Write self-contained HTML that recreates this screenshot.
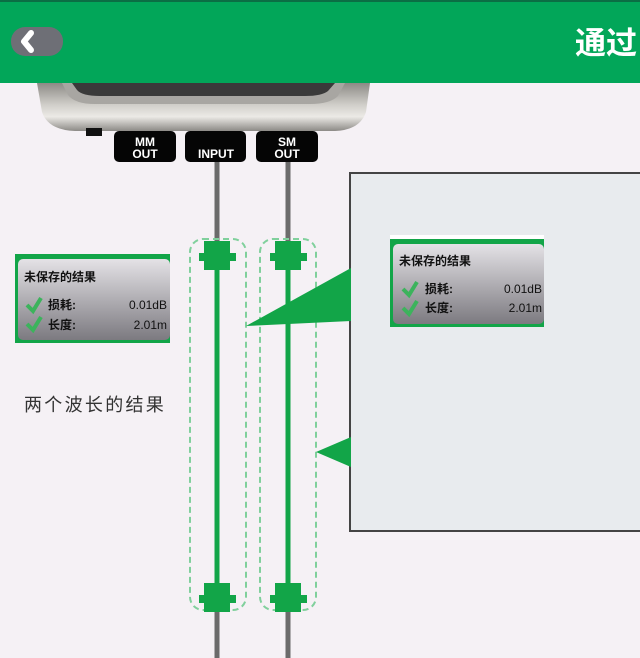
<!DOCTYPE html>
<html><head><meta charset="utf-8"><style>
html,body{margin:0;padding:0;width:640px;height:658px;overflow:hidden;background:#f5f1f5;font-family:"Liberation Sans","Noto Sans CJK SC",sans-serif;}
</style></head><body>
<svg width="640" height="658" viewBox="0 0 640 658" xmlns="http://www.w3.org/2000/svg" style="position:absolute;left:0;top:0">
<defs>
<linearGradient id="silver" x1="0" y1="0" x2="0" y2="1">
<stop offset="0" stop-color="#8c8a86"/><stop offset="0.45" stop-color="#d0cec9"/><stop offset="0.7" stop-color="#eceae6"/><stop offset="1" stop-color="#8c8a86"/>
</linearGradient>
<linearGradient id="panel" x1="0" y1="0" x2="0" y2="1">
<stop offset="0" stop-color="#e4e2e6"/><stop offset="1" stop-color="#7c7a80"/>
</linearGradient>
</defs>
<rect x="0" y="0" width="640" height="658" fill="#f5f1f5"/>
<!-- device -->
<path d="M37 83 L370 83 L366 112 Q360 130 335 131 L75 131 Q48 130 42 112 Z" fill="url(#silver)"/>
<path d="M62 83 L345 83 L338 96 Q330 104 310 104 L95 104 Q75 104 68 95 Z" fill="#a8a6a2"/>
<path d="M72 83 L335 83 L328 91 Q322 96 305 96 L100 96 Q82 96 77 90 Z" fill="#3a3a3a"/>
<rect x="86" y="128" width="16" height="8" fill="#111"/>
<rect x="114" y="131" width="62" height="31" rx="5" fill="#050505"/>
<rect x="185" y="131" width="61" height="31" rx="5" fill="#050505"/>
<rect x="256" y="131" width="62" height="31" rx="5" fill="#050505"/>
<g fill="#fff" font-family="Liberation Sans, sans-serif" font-weight="bold" font-size="12" text-anchor="middle">
<text x="145" y="146">MM</text><text x="145" y="158">OUT</text>
<text x="216" y="158">INPUT</text>
<text x="287" y="146">SM</text><text x="287" y="158">OUT</text>
</g>
<!-- header -->
<rect x="0" y="0" width="640" height="83" fill="#02a659"/>
<rect x="0" y="0" width="640" height="2" fill="#0b6e44"/>
<rect x="11" y="27" width="52" height="29" rx="14" fill="#6e6f76"/>
<path d="M31 33 L24 41.5 L31 50" stroke="#fff" stroke-width="6" fill="none" stroke-linejoin="round" stroke-linecap="round"/>
<text x="575" y="54" fill="#fff" font-size="31" font-weight="bold" font-family="Noto Sans CJK SC, sans-serif">通过</text>
<!-- gray fibers -->
<rect x="214.5" y="162" width="5" height="496" fill="#6b6b6b"/>
<rect x="285.5" y="162" width="5" height="496" fill="#6b6b6b"/>
<!-- dashed enclosures -->
<rect x="190" y="239" width="56" height="371" rx="13" fill="none" stroke="#80d09c" stroke-width="2" stroke-dasharray="6,4"/>
<rect x="260" y="239" width="56" height="371" rx="13" fill="none" stroke="#80d09c" stroke-width="2" stroke-dasharray="6,4"/>
<!-- green fibers -->
<rect x="214.5" y="250" width="5" height="350" fill="#12a548"/>
<rect x="285.5" y="250" width="5" height="350" fill="#12a548"/>
<g fill="#12a548">
<rect x="204" y="241" width="26" height="29"/><rect x="199" y="253" width="37" height="8"/>
<rect x="275" y="241" width="26" height="29"/><rect x="270" y="253" width="37" height="8"/>
<rect x="204" y="583" width="26" height="29"/><rect x="199" y="595" width="37" height="8"/>
<rect x="275" y="583" width="26" height="29"/><rect x="270" y="595" width="37" height="8"/>
</g>
<!-- big box -->
<rect x="350" y="173" width="300" height="358" fill="#e8ebee" stroke="#444" stroke-width="2"/>
<polygon points="246,326 351,268 351,321" fill="#12a548"/>
<polygon points="316,452 351,437 351,467" fill="#12a548"/>
<!-- left panel -->
<rect x="15" y="254" width="155" height="89" fill="#12a548"/>
<rect x="18" y="259" width="152" height="81" rx="5" fill="url(#panel)"/>
<g font-family="Liberation Sans, Noto Sans CJK SC, sans-serif" fill="#111">
<text x="24" y="281" font-size="12" font-weight="bold">未保存的结果</text>
<text x="48" y="309" font-size="12" font-weight="bold">损耗:</text>
<text x="48" y="329" font-size="12" font-weight="bold">长度:</text>
<text x="167" y="309" font-size="12" text-anchor="end">0.01dB</text>
<text x="167" y="329" font-size="12" text-anchor="end">2.01m</text>
</g>
<path d="M27 305 L33 311 L41 298" stroke="#3cb35c" stroke-width="4" fill="none"/>
<path d="M27 324 L33 330 L41 317" stroke="#3cb35c" stroke-width="4" fill="none"/>
<!-- inner panel -->
<rect x="390" y="235" width="154" height="92" fill="#fff"/>
<rect x="390" y="239" width="154" height="88" fill="#12a548"/>
<rect x="393" y="244" width="151" height="80" rx="5" fill="url(#panel)"/>
<g font-family="Liberation Sans, Noto Sans CJK SC, sans-serif" fill="#111">
<text x="399" y="265" font-size="12" font-weight="bold">未保存的结果</text>
<text x="425" y="293" font-size="12" font-weight="bold">损耗:</text>
<text x="425" y="312" font-size="12" font-weight="bold">长度:</text>
<text x="542" y="293" font-size="12" text-anchor="end">0.01dB</text>
<text x="542" y="312" font-size="12" text-anchor="end">2.01m</text>
</g>
<path d="M403 289 L409 295 L417 282" stroke="#3cb35c" stroke-width="4" fill="none"/>
<path d="M403 308 L409 314 L417 301" stroke="#3cb35c" stroke-width="4" fill="none"/>
<text x="24" y="411" font-size="18" letter-spacing="2.3" fill="#333" font-family="Liberation Sans, Noto Sans CJK SC, sans-serif">两个波长的结果</text>
</svg>
</body></html>
